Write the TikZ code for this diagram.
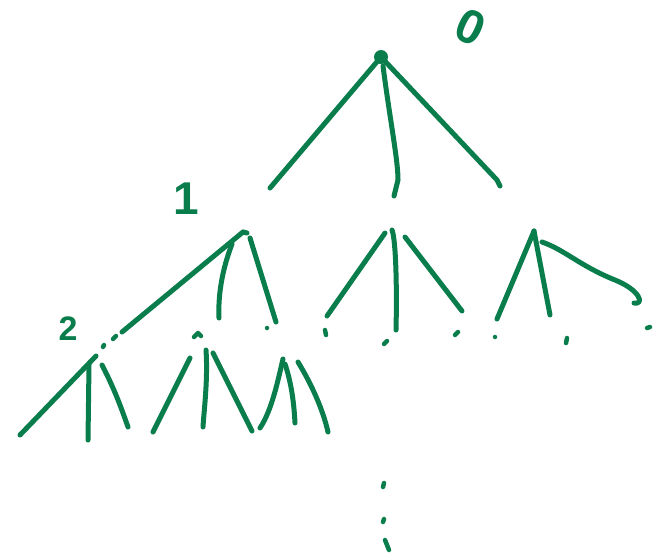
\documentclass[tikz,border=0pt]{standalone}
\usepackage{fontspec}
\setmainfont{Liberation Sans}
\usepackage{xcolor}
\usepackage{tikz}
\definecolor{penGreen}{HTML}{0A7D4C}

\begin{document}
\begin{tikzpicture}[
  x=1pt, y=-1pt,
  pen/.style={draw=penGreen, line width=5pt, line cap=round, line join=round},
  tick/.style={pen, line width=4.5pt},
  lvl/.style={text=penGreen, inner sep=0pt, font=\fontsize{46}{46}\selectfont\bfseries}]
  \useasboundingbox (0,0) rectangle (668,558);
  % tree tops
  \coordinate (root) at (381,57);
  \coordinate (a) at (243,232);
  \coordinate (b) at (392,230);
  \coordinate (c) at (534,231);
  \coordinate (d) at (96,356);
  % level labels
  \node[lvl, rotate=-25, font=\fontsize{48}{48}\selectfont\bfseries] (l0) at (471,27) {0};
  \node[lvl] (l1) at (186,199) {1};
  \node[lvl, font=\fontsize{34}{34}\selectfont\bfseries] (l2) at (68,329) {2};
  % level 0
  \fill[penGreen] (root) circle (7pt);
  \draw[pen] (root) -- (270,188);
  \draw[pen] (383,66) .. controls (390,120) and (398,160) .. (398,180) -- (394,196);
  \draw[pen] (root) -- (497,180) -- (500,186);
  % level 1, left
  \draw[pen] (a) -- (247,233);
  \draw[pen] (a) -- (122,332);
  \draw[tick] (113,339) -- (116,336);
  \draw[tick] (103,347) -- (104,345);
  \draw[pen] (d) -- (20,435);
  \draw[pen] (232,244) .. controls (222,270) and (218,295) .. (219,318);
  \draw[pen] (250,238) -- (276,322);
  \draw[tick] (267,328) -- (267,328);
  % level 1, middle
  \draw[pen] (385,233) -- (327,316);
  \draw[pen] (b) .. controls (396,240) and (397,290) .. (396,330);
  \draw[pen] (405,237) -- (462,311);
  \draw[tick] (325,330) -- (326,335);
  \draw[tick] (384,344) -- (387,341);
  \draw[tick] (455,335) -- (458,332);
  % level 1, right
  \draw[pen] (c) -- (497,319);
  \draw[pen] (c) -- (550,315);
  \draw[pen] (542,242) .. controls (565,250) and (580,266) .. (615,280)
    .. controls (640,290) and (645,305) .. (634,303);
  \draw[tick] (495,337) -- (495,337);
  \draw[tick] (567,338) -- (566,343);
  \draw[tick] (647,328) -- (650,327);
  % level 2
  \draw[pen] (89,365) -- (88,440);
  \draw[pen] (102,365) .. controls (115,390) and (122,410) .. (128,427);
  \draw[tick] (194,337) -- (198,333) -- (201,336);
  \draw[pen] (190,358) -- (153,432);
  \draw[pen] (206,350) .. controls (208,380) and (204,410) .. (203,427);
  \draw[pen] (213,353) -- (252,431);
  \draw[pen] (283,359) .. controls (278,380) and (272,410) .. (260,428);
  \draw[pen] (285,364) .. controls (292,385) and (294,405) .. (295,423);
  \draw[pen] (298,362) .. controls (312,385) and (323,410) .. (328,432);
  % continues
  \draw[tick] (383,487) -- (384,483);
  \draw[tick] (383,522) -- (384,519);
  \draw[tick] (385,540) -- (389,550);
\end{tikzpicture}
\end{document}
